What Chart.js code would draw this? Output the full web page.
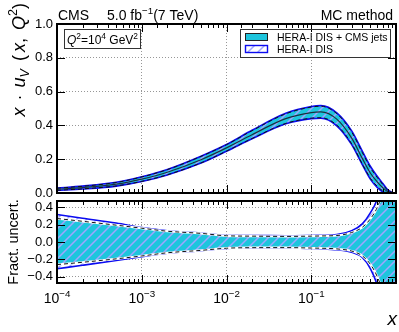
<!DOCTYPE html>
<html>
<head>
<meta charset="utf-8">
<script src="https://cdn.jsdelivr.net/npm/chart.js@4.4.0/dist/chart.umd.min.js"></script>
<style>
  html, body { margin: 0; padding: 0; background: #fff; }
  #wrap { position: relative; width: 399px; height: 332px; overflow: hidden; }
  #top { position: absolute; left: 0; top: 0; }
  #bot { position: absolute; left: 0; top: 196px; }
</style>
</head>
<body>
<div id="wrap">
  <canvas id="top" width="399" height="200"></canvas>
  <canvas id="bot" width="399" height="136"></canvas>
</div>
<script>
// values
const xVals   = [1e-4, 2e-4, 5e-4, 1e-3, 2e-3, 5e-3, 1e-2, 2e-2, 5e-2, 0.1, 0.13, 0.2, 0.3, 0.4, 0.5, 0.6, 0.7, 0.8, 0.9, 1.0];
const central = [0.022, 0.032, 0.052, 0.082, 0.123, 0.197, 0.267, 0.345, 0.44, 0.476, 0.48, 0.437, 0.325, 0.205, 0.117, 0.066, 0.031, 0.008, 0.001, 0];
// fractional uncertainties, HERA-I DIS only
const heraUp  = [0.318, 0.275, 0.22, 0.167, 0.13, 0.105, 0.075, 0.075, 0.072, 0.075, 0.077, 0.085, 0.13, 0.21, 0.34, 0.5, 0.8, 1.3, 2.2, 3.5];
const heraLo  = [-0.31, -0.27, -0.215, -0.17, -0.13, -0.1, -0.075, -0.07, -0.07, -0.075, -0.078, -0.09, -0.12, -0.18, -0.31, -0.5, -0.8, -1.3, -2.2, -3.5];
// fractional uncertainties, HERA-I DIS + CMS jets
const jetsUp  = [0.272, 0.24, 0.195, 0.16, 0.125, 0.1, 0.072, 0.068, 0.065, 0.068, 0.07, 0.075, 0.11, 0.17, 0.27, 0.4, 0.6, 1.0, 2.0, 3.0];
const jetsLo  = [-0.262, -0.235, -0.195, -0.162, -0.125, -0.097, -0.072, -0.066, -0.065, -0.07, -0.072, -0.08, -0.105, -0.16, -0.26, -0.4, -0.6, -1.0, -2.0, -3.0];

const topTicks = [0, 0.2, 0.4, 0.6, 0.8, 1.0];
const botTicks = [-0.4, -0.2, 0, 0.2, 0.4];

const FONT = "'Liberation Sans', Arial, Helvetica, sans-serif";
const CYAN = '#1ec5dd';
const BLUE = '#0b0bf0';
const GRID = 'rgba(140,140,140,0.9)';

function pts(ys) { return xVals.map((x, i) => ({ x: x, y: ys[i] })); }
function absBand(frac) { return central.map((c, i) => c * (1 + frac[i])); }
function isDecade(v) { const l = Math.log10(v); return Math.abs(l - Math.round(l)) < 1e-6; }

function makeHatch(ctx) {
  const c = document.createElement('canvas');
  c.width = 10; c.height = 10;
  const g = c.getContext('2d');
  g.strokeStyle = 'rgb(160,165,255)';
  g.lineWidth = 1.5;
  g.beginPath();
  g.moveTo(-1, 11); g.lineTo(11, -1);
  g.moveTo(-6, 6); g.lineTo(6, -6);
  g.moveTo(4, 16); g.lineTo(16, 4);
  g.stroke();
  return ctx.createPattern(c, 'repeat');
}

// text with italic / super / subscript pieces
function drawRich(ctx, parts, x, y, size, align) {
  let w = 0;
  const segs = parts.map(p => {
    const fs = (p.s === 'sup' || p.s === 'sub') ? size * 0.7 : size;
    const font = (p.i ? 'italic ' : '') + fs + 'px ' + FONT;
    ctx.font = font;
    const m = ctx.measureText(p.t).width + (p.gap || 0);
    w += m;
    return { t: p.t, s: p.s, font: font, m: m };
  });
  let cx = align === 'center' ? x - w / 2 : (align === 'right' ? x - w : x);
  ctx.textAlign = 'left';
  ctx.textBaseline = 'alphabetic';
  segs.forEach(p => {
    ctx.font = p.font;
    const dy = p.s === 'sup' ? -size * 0.42 : (p.s === 'sub' ? size * 0.22 : 0);
    ctx.fillText(p.t, cx, y + dy);
    cx += p.m;
  });
}

function datasets(up, lo, upJ, loJ, mid, hatch, edge) {
  const list = [
    { data: pts(upJ), borderWidth: 0, borderColor: 'rgba(0,0,0,0)', backgroundColor: CYAN, fill: '+1', order: 10 },
    { data: pts(loJ), borderWidth: 0, borderColor: 'rgba(0,0,0,0)', fill: false, order: 10 },
    { data: pts(up), borderWidth: 0, borderColor: 'rgba(0,0,0,0)', backgroundColor: hatch, fill: '+1', order: 9 },
    { data: pts(lo), borderWidth: 0, borderColor: 'rgba(0,0,0,0)', fill: false, order: 9 },
    { data: pts(up), borderWidth: 1.6, borderColor: BLUE, fill: false, order: 7 },
    { data: pts(lo), borderWidth: 1.6, borderColor: BLUE, fill: false, order: 7 },
    { data: pts(upJ), borderWidth: 1, borderColor: '#111', borderDash: [4, 3], fill: false, order: 5 },
    { data: pts(loJ), borderWidth: 1, borderColor: '#111', borderDash: [4, 3], fill: false, order: 5 }
  ];
  if (edge > 0) {
    list.push({ data: pts(upJ), borderWidth: edge, borderColor: '#fff', fill: false, order: 6 });
    list.push({ data: pts(loJ), borderWidth: edge, borderColor: '#fff', fill: false, order: 6 });
  }
  if (mid) list.push({ data: pts(mid), borderWidth: 1.2, borderColor: '#1d2f3f', fill: false, order: 1 });
  list.forEach(d => { d.pointRadius = 0; d.cubicInterpolationMode = 'monotone'; });
  return list;
}

const framePlugin = {
  id: 'frame',
  afterDraw(chart) {
    const { ctx, chartArea: a, scales } = chart;
    ctx.save();
    ctx.strokeStyle = '#000';
    ctx.lineWidth = 1;
    ctx.beginPath();
    scales.x.ticks.forEach(t => {
      const px = Math.round(scales.x.getPixelForValue(t.value)) + 0.5;
      const len = isDecade(t.value) ? 8 : 4;
      ctx.moveTo(px, a.bottom); ctx.lineTo(px, a.bottom - len);
      ctx.moveTo(px, a.top); ctx.lineTo(px, a.top + len);
    });
    scales.y.ticks.forEach(t => {
      const py = Math.round(scales.y.getPixelForValue(t.value)) + 0.5;
      ctx.moveTo(a.left, py); ctx.lineTo(a.left + 8, py);
      ctx.moveTo(a.right, py); ctx.lineTo(a.right - 8, py);
    });
    ctx.stroke();
    ctx.lineWidth = 2;
    ctx.strokeRect(a.left, a.top, a.right - a.left, a.bottom - a.top);
    ctx.restore();
  }
};

const topText = {
  id: 'topText',
  afterDraw(chart) {
    const ctx = chart.ctx;
    ctx.save();
    ctx.fillStyle = '#000';
    drawRich(ctx, [{ t: 'CMS' }], 58, 20, 14, 'left');
    drawRich(ctx, [{ t: '5.0 fb' }, { t: '\u22121', s: 'sup' }, { t: '(7 TeV)' }], 107, 20, 14, 'left');
    drawRich(ctx, [{ t: 'MC method' }], 393, 20, 14, 'right');

    // y title
    ctx.save();
    ctx.translate(25, 3);
    ctx.rotate(-Math.PI / 2);
    drawRich(ctx, [
      { t: 'x', i: 1, gap: 7 }, { t: '\u00b7', gap: 7 }, { t: 'u', i: 1 }, { t: 'V', i: 1, s: 'sub', gap: 8 },
      { t: '(', gap: 3 }, { t: 'x', i: 1 }, { t: ',', gap: 8 }, { t: 'Q', i: 1 }, { t: '2', s: 'sup' }, { t: ')' }
    ], 0, 0, 18, 'right');
    ctx.restore();

    // Q2 box
    ctx.lineWidth = 1;
    ctx.strokeStyle = '#333';
    ctx.strokeRect(64.5, 29.5, 76, 19);
    drawRich(ctx, [{ t: 'Q', i: 1 }, { t: '2', s: 'sup' }, { t: '=10' }, { t: '4', s: 'sup' }, { t: ' GeV' }, { t: '2', s: 'sup' }], 102.5, 44, 12, 'center');

    // legend
    ctx.strokeRect(240.5, 29.5, 150, 28);
    ctx.fillStyle = CYAN;
    ctx.fillRect(245, 33, 23, 8);
    ctx.strokeStyle = '#222';
    ctx.strokeRect(245.5, 33.5, 22, 7);
    ctx.fillStyle = chart.$hatch;
    ctx.fillRect(245, 45, 23, 8);
    ctx.strokeStyle = BLUE;
    ctx.lineWidth = 1.4;
    ctx.strokeRect(245.5, 45.5, 22, 7);
    ctx.fillStyle = '#000';
    drawRich(ctx, [{ t: 'HERA-I DIS + CMS jets' }], 277, 41, 10.5, 'left');
    drawRich(ctx, [{ t: 'HERA-I DIS' }], 277, 53, 10.5, 'left');
    ctx.restore();
  }
};

const botText = {
  id: 'botText',
  afterDraw(chart) {
    const ctx = chart.ctx;
    const xs = chart.scales.x;
    ctx.save();
    ctx.fillStyle = '#000';
    xs.ticks.filter(t => isDecade(t.value) && t.value < 1).forEach(t => {
      const px = xs.getPixelForValue(t.value);
      const n = Math.round(Math.log10(t.value));
      drawRich(ctx, [{ t: '10' }, { t: '\u2212' + Math.abs(n), s: 'sup' }], px, 107, 14, 'center');
    });
    drawRich(ctx, [{ t: 'x', i: 1 }], 397, 129, 19, 'right');
    ctx.save();
    ctx.translate(18, 46);
    ctx.rotate(-Math.PI / 2);
    drawRich(ctx, [{ t: 'Fract. uncert.' }], 0, 0, 14.5, 'center');
    ctx.restore();
    ctx.restore();
  }
};

function xScale(height) {
  return {
    type: 'logarithmic', min: 1e-4, max: 1,
    ticks: { display: false, autoSkip: false },
    grid: {
      drawTicks: false, lineWidth: 1,
      color: c => (c.tick && isDecade(c.tick.value) && c.tick.value > 1.5e-4 && c.tick.value < 0.9) ? GRID : 'rgba(0,0,0,0)'
    },
    border: { display: false, dash: [1, 2] },
    afterFit: s => { s.height = height; s.paddingLeft = 0; s.paddingRight = 0; }
  };
}

function yScale(min, max, ticks) {
  return {
    min: min, max: max,
    afterBuildTicks: s => { s.ticks = ticks.map(v => ({ value: v })); },
    ticks: {
      padding: 4, color: '#000', font: { family: FONT, size: 13 },
      callback: v => Math.abs(v) < 1e-9 ? '0.0' : (v < 0 ? '\u2212' : '') + Math.abs(v).toFixed(1)
    },
    grid: {
      drawTicks: false, lineWidth: 1,
      color: c => (c.tick && c.tick.value > min + 1e-6 && c.tick.value < max - 1e-6) ? GRID : 'rgba(0,0,0,0)'
    },
    border: { display: false, dash: [1, 2] },
    afterFit: s => { s.width = 57; s.paddingTop = 0; s.paddingBottom = 0; }
  };
}

function baseOptions(padTop, xHeight, yMin, yMax, ticks) {
  return {
    responsive: false, animation: false, events: [],
    layout: { padding: { left: 0, right: 3, top: padTop, bottom: 0 } },
    plugins: { legend: { display: false }, tooltip: { enabled: false } },
    scales: { x: xScale(xHeight), y: yScale(yMin, yMax, ticks) }
  };
}

const topCtx = document.getElementById('top').getContext('2d');
const topHatch = makeHatch(topCtx);
const topChart = new Chart(topCtx, {
  type: 'line',
  data: { datasets: datasets(absBand(heraUp), absBand(heraLo), absBand(jetsUp), absBand(jetsLo), central, topHatch, 0) },
  options: baseOptions(24, 7, 0, 1.0, topTicks),
  plugins: [framePlugin, topText]
});
topChart.$hatch = topHatch;
topChart.draw();

const botCtx = document.getElementById('bot').getContext('2d');
const botHatch = makeHatch(botCtx);
const botChart = new Chart(botCtx, {
  type: 'line',
  data: { datasets: datasets(heraUp, heraLo, jetsUp, jetsLo, null, botHatch, 2.2) },
  options: baseOptions(5, 49, -0.475, 0.475, botTicks),
  plugins: [framePlugin, botText]
});
botChart.draw();
</script>
</body>
</html>
